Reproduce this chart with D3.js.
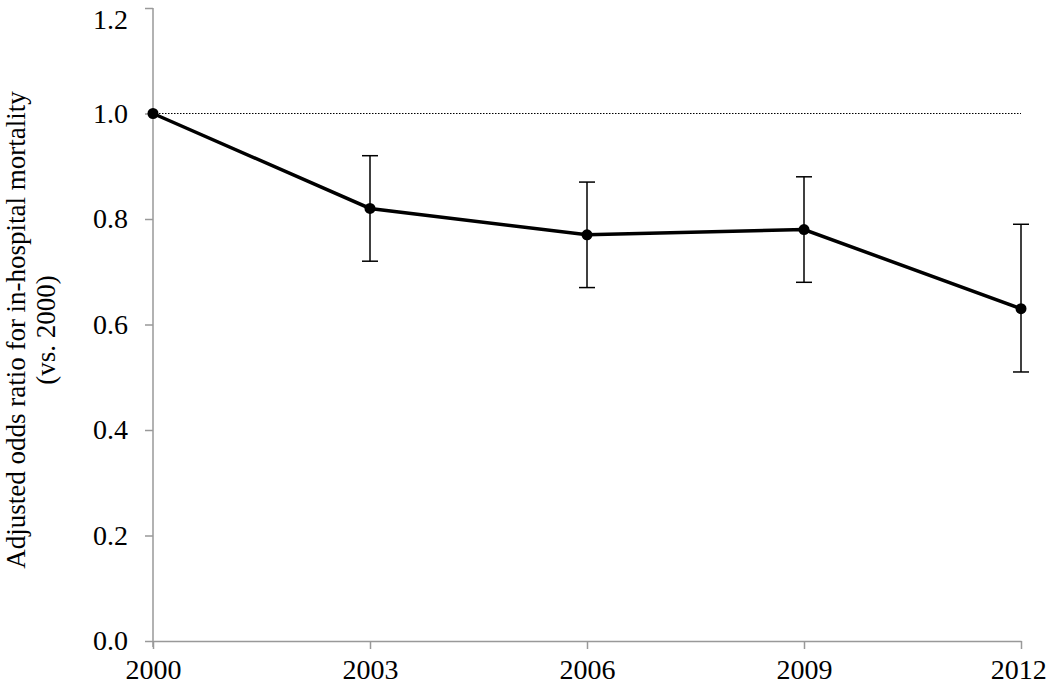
<!DOCTYPE html>
<html>
<head>
<meta charset="utf-8">
<script src="https://cdn.jsdelivr.net/npm/d3@7"></script>
<style>
  body { margin: 0; background: #fff; }
  text { font-family: "Liberation Serif", "Times New Roman", serif; }
</style>
</head>
<body>
<script>
// data
var years = [2000, 2003, 2006, 2009, 2012];
var oddsRatio = [1.0, 0.82, 0.77, 0.78, 0.63];
var ciLower = [null, 0.72, 0.67, 0.68, 0.51];
var ciUpper = [null, 0.92, 0.87, 0.88, 0.79];
var yTicks = [0, 0.2, 0.4, 0.6, 0.8, 1.0, 1.2];

var svgWidth = 1050;
var svgHeight = 687;

var chartMargin = { top: 8, right: 29, bottom: 46, left: 153 };
var chartWidth = svgWidth - chartMargin.left - chartMargin.right;
var chartHeight = svgHeight - chartMargin.top - chartMargin.bottom;

var svg = d3.select("body")
  .append("svg")
  .attr("width", svgWidth)
  .attr("height", svgHeight);

var chartGroup = svg.append("g")
  .attr("transform", `translate(${chartMargin.left}, ${chartMargin.top})`);

var xScale = d3.scalePoint()
  .domain(years)
  .range([0, chartWidth]);

var yScale = d3.scaleLinear()
  .domain([0, 1.2])
  .range([chartHeight, 0]);

// axes
var bottomAxis = d3.axisBottom(xScale).tickSizeOuter(0).tickSizeInner(8).tickPadding(10);
var leftAxis = d3.axisLeft(yScale).tickValues(yTicks).tickFormat(d3.format(".1f"))
  .tickSizeOuter(0).tickSizeInner(8).tickPadding(17);

var xAxis = chartGroup.append("g")
  .attr("transform", `translate(0, ${chartHeight})`)
  .call(bottomAxis);

var yAxis = chartGroup.append("g")
  .call(leftAxis);

[xAxis, yAxis].forEach(function(ax) {
  ax.attr("font-size", null).attr("font-family", null);
  ax.select(".domain").attr("stroke", "#999").attr("stroke-width", 1.5);
  ax.selectAll(".tick line").attr("stroke", "#999").attr("stroke-width", 1.5);
  ax.selectAll(".tick text").attr("fill", "#000").style("font-size", "28px");
});
// y axis runs slightly below the x axis like the original
yAxis.select(".domain").attr("d", `M0,0V${chartHeight + 6}`);
// nudge the top label down so it is not clipped
yAxis.selectAll(".tick text").filter(d => d === 1.2).attr("dy", "0.72em");
// keep the last year label inside the page
xAxis.selectAll(".tick text").filter(d => d === 2012).attr("dx", "-0.1em");

// dotted reference line at 1.0
chartGroup.append("line")
  .attr("x1", 0)
  .attr("x2", chartWidth)
  .attr("y1", yScale(1))
  .attr("y2", yScale(1))
  .attr("stroke", "#000")
  .attr("stroke-width", 1)
  .attr("stroke-dasharray", "1.5,1.5");

// error bars
var bars = years.map(function(y, i) {
  return { year: y, lo: ciLower[i], hi: ciUpper[i] };
}).filter(d => d.lo !== null);

var errGroup = chartGroup.append("g");
errGroup.selectAll(".err")
  .data(bars)
  .enter()
  .append("line")
  .attr("x1", d => xScale(d.year))
  .attr("x2", d => xScale(d.year))
  .attr("y1", d => yScale(d.lo))
  .attr("y2", d => yScale(d.hi))
  .attr("stroke", "#000")
  .attr("stroke-width", 1.5);

["lo", "hi"].forEach(function(k) {
  errGroup.selectAll(".cap-" + k)
    .data(bars)
    .enter()
    .append("line")
    .attr("x1", d => xScale(d.year) - 8)
    .attr("x2", d => xScale(d.year) + 8)
    .attr("y1", d => yScale(d[k]))
    .attr("y2", d => yScale(d[k]))
    .attr("stroke", "#000")
    .attr("stroke-width", 1.5);
});

// main line
var points = years.map((y, i) => ({ year: y, value: oddsRatio[i] }));

var line = d3.line()
  .x(d => xScale(d.year))
  .y(d => yScale(d.value));

chartGroup.append("path")
  .datum(points)
  .attr("d", line)
  .attr("fill", "none")
  .attr("stroke", "#000")
  .attr("stroke-width", 3.5);

chartGroup.selectAll("circle")
  .data(points)
  .enter()
  .append("circle")
  .attr("cx", d => xScale(d.year))
  .attr("cy", d => yScale(d.value))
  .attr("r", 5.5)
  .attr("fill", "#000");

// y axis title
var yTitle = svg.append("text")
  .attr("transform", "translate(25, 330) rotate(-90)")
  .attr("text-anchor", "middle")
  .style("font-size", "27px")
  .attr("fill", "#000");

yTitle.append("tspan")
  .attr("x", 0)
  .attr("dy", 0)
  .text("Adjusted odds ratio for in-hospital mortality");

yTitle.append("tspan")
  .attr("x", 0)
  .attr("dy", 30)
  .text("(vs. 2000)");
</script>
</body>
</html>
